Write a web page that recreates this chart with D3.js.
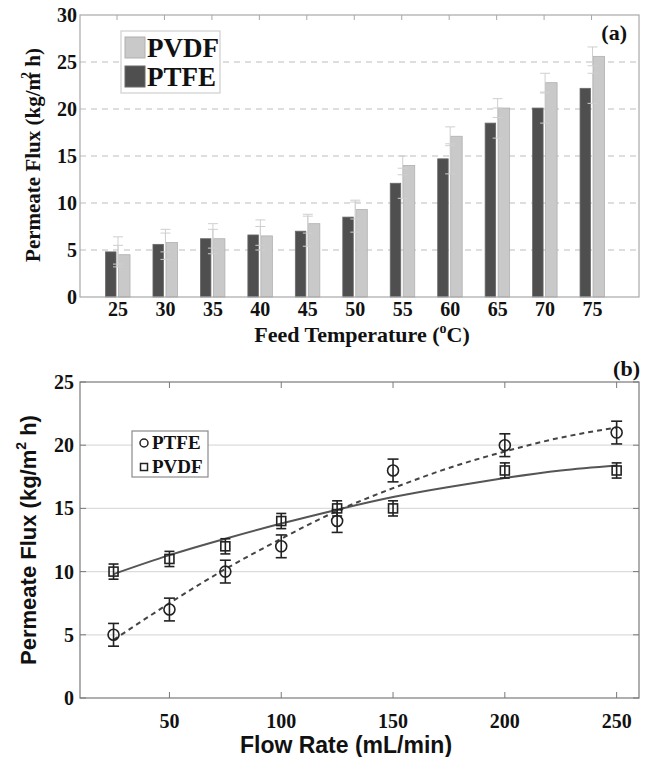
<!DOCTYPE html>
<html>
<head>
<meta charset="utf-8">
<script src="https://cdn.jsdelivr.net/npm/d3@7"></script>
<style>
  body { margin: 0; background: #fff; }
  svg { display: block; }
  .serif { font-family: "Liberation Serif", "Times New Roman", serif; font-weight: bold; }
  .sans { font-family: "Liberation Sans", Arial, sans-serif; font-weight: bold; }
</style>
</head>
<body>
<svg id="chart" width="648" height="757"></svg>
<script>
// ---- (a) feed temperature bars ----
const temps = [25, 30, 35, 40, 45, 50, 55, 60, 65, 70, 75];
const ptfeTemp = [4.8, 5.6, 6.2, 6.6, 7.0, 8.5, 12.1, 14.7, 18.5, 20.1, 22.2];
const pvdfTemp = [4.5, 5.8, 6.2, 6.5, 7.8, 9.3, 14.0, 17.1, 20.1, 22.8, 25.6];
const ptfeTempErr = [1.6, 1.6, 1.6, 1.6, 1.6, 1.6, 1.6, 1.6, 1.6, 1.6, 1.6];
const pvdfTempErr = [1.0, 1.0, 1.0, 1.0, 1.0, 1.0, 1.0, 1.0, 1.0, 1.0, 1.0];
const yTicksA = [0, 5, 10, 15, 20, 25, 30];

// ---- (b) flow rate ----
const flows = [25, 50, 75, 100, 125, 150, 200, 250];
const ptfeFlow = [5, 7, 10, 12, 14, 18, 20, 21];
const pvdfFlow = [10, 11, 12, 14, 15, 15, 18, 18];
const ptfeFlowErr = [0.9, 0.9, 0.9, 0.9, 0.9, 0.9, 0.9, 0.9];
const pvdfFlowErr = [0.6, 0.6, 0.6, 0.6, 0.6, 0.6, 0.6, 0.6];
const fitX = [25, 50, 75, 100, 125, 150, 175, 200, 225, 250];
const ptfeFit = [4.6, 7.5, 10.2, 12.6, 14.8, 16.6, 18.2, 19.5, 20.6, 21.4];
const pvdfFit = [9.8, 11.3, 12.6, 13.8, 14.9, 15.9, 16.7, 17.4, 18.0, 18.4];
const xTicksB = [50, 100, 150, 200, 250];
const yTicksB = [0, 5, 10, 15, 20, 25];

const svg = d3.select("#chart");

// ================= panel (a) =================
const A = {left: 80, right: 639, top: 15, bottom: 297};
const xa = d3.scaleLinear().domain([0.22, 12]).range([A.left, A.right]);
const ya = d3.scaleLinear().domain([0, 30]).range([A.bottom, A.top]);

const ga = svg.append("g");

// dashed grid
ga.append("g")
  .selectAll("line")
  .data(yTicksA.filter(d => d > 0 && d < 30))
  .join("line")
  .attr("x1", A.left).attr("x2", A.right)
  .attr("y1", d => ya(d)).attr("y2", d => ya(d))
  .attr("stroke", "#bdbdbd").attr("stroke-width", 1.2)
  .attr("stroke-dasharray", "6,5");

// bars
const barsA = temps.map((t, i) => ({i: i + 1, ptfe: ptfeTemp[i], pvdf: pvdfTemp[i], ep: ptfeTempErr[i], ev: pvdfTempErr[i]}));

ga.append("g").selectAll("rect")
  .data(barsA).join("rect")
  .attr("x", d => xa(d.i) - 11.5).attr("width", 10.5)
  .attr("y", d => ya(d.ptfe)).attr("height", d => ya(0) - ya(d.ptfe))
  .attr("fill", "#4f4f4f").attr("stroke", "#6a6a6a").attr("stroke-width", 0.8);

ga.append("g").selectAll("rect")
  .data(barsA).join("rect")
  .attr("x", d => xa(d.i) + 1.5).attr("width", 11.5)
  .attr("y", d => ya(d.pvdf)).attr("height", d => ya(0) - ya(d.pvdf))
  .attr("fill", "#c9c9c9").attr("stroke", "#b0b0b0").attr("stroke-width", 0.8);

// faint error bars (both sit at group centre)
const errA = [];
barsA.forEach(d => {
  errA.push({i: d.i, v: d.ptfe, e: d.ep});
  errA.push({i: d.i, v: d.pvdf, e: d.ev});
});
const eg = ga.append("g").attr("stroke", "#cfcfcf").attr("stroke-width", 1);
eg.selectAll(".stem").data(errA).join("line")
  .attr("x1", d => xa(d.i) + 1).attr("x2", d => xa(d.i) + 1)
  .attr("y1", d => ya(d.v - d.e)).attr("y2", d => ya(d.v + d.e));
eg.selectAll(".capT").data(errA).join("line")
  .attr("x1", d => xa(d.i) - 4).attr("x2", d => xa(d.i) + 6)
  .attr("y1", d => ya(d.v + d.e)).attr("y2", d => ya(d.v + d.e));
eg.selectAll(".capB").data(errA).join("line")
  .attr("x1", d => xa(d.i) - 4).attr("x2", d => xa(d.i) + 6)
  .attr("y1", d => ya(d.v - d.e)).attr("y2", d => ya(d.v - d.e));

// frame + top ticks
ga.append("rect")
  .attr("x", A.left).attr("y", A.top)
  .attr("width", A.right - A.left).attr("height", A.bottom - A.top)
  .attr("fill", "none").attr("stroke", "#a8a8a8").attr("stroke-width", 1.2);
ga.append("g").selectAll("line")
  .data(barsA).join("line")
  .attr("x1", d => xa(d.i)).attr("x2", d => xa(d.i))
  .attr("y1", A.top).attr("y2", A.top + 5)
  .attr("stroke", "#a8a8a8");

// tick labels
ga.append("g").selectAll("text")
  .data(yTicksA).join("text")
  .attr("class", "serif")
  .attr("x", A.left - 3).attr("y", d => ya(d)).attr("dy", "0.35em")
  .attr("text-anchor", "end").attr("font-size", 20).attr("fill", "#111")
  .text(d => d);
ga.append("g").selectAll("text")
  .data(barsA).join("text")
  .attr("class", "serif")
  .attr("x", d => xa(d.i) + 1).attr("y", 316)
  .attr("text-anchor", "middle").attr("font-size", 20).attr("fill", "#111")
  .text((d, k) => temps[k]);

// axis titles
const xtA = ga.append("text").attr("class", "serif")
  .attr("x", 362).attr("y", 342).attr("text-anchor", "middle")
  .attr("font-size", 22).attr("fill", "#111");
xtA.append("tspan").text("Feed Temperature (");
xtA.append("tspan").attr("font-size", 14).attr("dy", -9).text("o");
xtA.append("tspan").attr("dy", 9).text("C)");

const ytA = ga.append("text").attr("class", "serif")
  .attr("transform", "translate(40,155) rotate(-90)")
  .attr("text-anchor", "middle").attr("font-size", 21).attr("fill", "#111");
ytA.append("tspan").text("Permeate Flux (kg/m");
ytA.append("tspan").attr("font-size", 14).attr("dy", -9).attr("dx", -6).text("2");
ytA.append("tspan").attr("dy", 9).text(" h)");

// panel letter
ga.append("text").attr("class", "serif")
  .attr("x", 627).attr("y", 40).attr("text-anchor", "end")
  .attr("font-size", 22).attr("fill", "#111").text("(a)");

// legend
const la = ga.append("g");
la.append("rect").attr("x", 121).attr("y", 31).attr("width", 99).attr("height", 62)
  .attr("fill", "#fff").attr("stroke", "#cfcfcf").attr("stroke-width", 1.2);
const legA = [{name: "PVDF", fill: "#c9c9c9", stroke: "#b0b0b0"}, {name: "PTFE", fill: "#4f4f4f", stroke: "#6a6a6a"}];
la.selectAll(".sw").data(legA).join("rect")
  .attr("x", 125).attr("y", (d, k) => 37 + k * 29).attr("width", 20).attr("height", 21)
  .attr("fill", d => d.fill).attr("stroke", d => d.stroke);
la.selectAll(".lt").data(legA).join("text")
  .attr("class", "serif")
  .attr("x", 147).attr("y", (d, k) => 57 + k * 29)
  .attr("font-size", 27).attr("fill", "#111")
  .text(d => d.name);

// ================= panel (b) =================
const B = {left: 80, right: 639, top: 382, bottom: 698};
const xb = d3.scaleLinear().domain([10, 260]).range([B.left, B.right]);
const yb = d3.scaleLinear().domain([0, 25]).range([B.bottom, B.top]);

const gb = svg.append("g");

gb.append("g").selectAll("line")
  .data(yTicksB.filter(d => d > 0 && d < 25)).join("line")
  .attr("x1", B.left).attr("x2", B.right)
  .attr("y1", d => yb(d)).attr("y2", d => yb(d))
  .attr("stroke", "#dcdcdc").attr("stroke-width", 1.2);

gb.append("rect")
  .attr("x", B.left).attr("y", B.top)
  .attr("width", B.right - B.left).attr("height", B.bottom - B.top)
  .attr("fill", "none").attr("stroke", "#7a7a7a").attr("stroke-width", 1.2);

// ticks on all four sides
const tk = gb.append("g").attr("stroke", "#7a7a7a").attr("stroke-width", 1);
tk.selectAll(".tb").data(xTicksB).join("line")
  .attr("x1", d => xb(d)).attr("x2", d => xb(d))
  .attr("y1", B.bottom).attr("y2", B.bottom - 6);
tk.selectAll(".tt").data(xTicksB).join("line")
  .attr("x1", d => xb(d)).attr("x2", d => xb(d))
  .attr("y1", B.top).attr("y2", B.top + 6);
tk.selectAll(".tl").data(yTicksB).join("line")
  .attr("x1", B.left).attr("x2", B.left + 6)
  .attr("y1", d => yb(d)).attr("y2", d => yb(d));
tk.selectAll(".tr").data(yTicksB).join("line")
  .attr("x1", B.right).attr("x2", B.right - 6)
  .attr("y1", d => yb(d)).attr("y2", d => yb(d));

// fit curves
const fitLine = d3.line().x(d => xb(d[0])).y(d => yb(d[1])).curve(d3.curveNatural);
gb.append("path")
  .datum(fitX.map((x, k) => [x, pvdfFit[k]]))
  .attr("d", fitLine).attr("fill", "none")
  .attr("stroke", "#555").attr("stroke-width", 2);
gb.append("path")
  .datum(fitX.map((x, k) => [x, ptfeFit[k]]))
  .attr("d", fitLine).attr("fill", "none")
  .attr("stroke", "#444").attr("stroke-width", 2).attr("stroke-dasharray", "5,4");

// error bars + markers
function errBars(vals, errs, cap) {
  const data = flows.map((f, k) => ({x: f, y: vals[k], e: errs[k]}));
  const g = gb.append("g").attr("stroke", "#222").attr("stroke-width", 1.6).attr("fill", "none");
  g.selectAll(".s").data(data).join("line")
    .attr("x1", d => xb(d.x)).attr("x2", d => xb(d.x))
    .attr("y1", d => yb(d.y - d.e)).attr("y2", d => yb(d.y + d.e));
  g.selectAll(".c1").data(data).join("line")
    .attr("x1", d => xb(d.x) - cap).attr("x2", d => xb(d.x) + cap)
    .attr("y1", d => yb(d.y + d.e)).attr("y2", d => yb(d.y + d.e));
  g.selectAll(".c2").data(data).join("line")
    .attr("x1", d => xb(d.x) - cap).attr("x2", d => xb(d.x) + cap)
    .attr("y1", d => yb(d.y - d.e)).attr("y2", d => yb(d.y - d.e));
  return {g, data};
}
const ep = errBars(ptfeFlow, ptfeFlowErr, 5.5);
ep.g.selectAll("circle").data(ep.data).join("circle")
  .attr("cx", d => xb(d.x)).attr("cy", d => yb(d.y)).attr("r", 5.5);
const ev = errBars(pvdfFlow, pvdfFlowErr, 5);
ev.g.selectAll("rect").data(ev.data).join("rect")
  .attr("x", d => xb(d.x) - 4.5).attr("y", d => yb(d.y) - 4.5)
  .attr("width", 9).attr("height", 9);

// tick labels
gb.append("g").selectAll("text")
  .data(yTicksB).join("text")
  .attr("class", "serif")
  .attr("x", B.left - 6).attr("y", d => yb(d)).attr("dy", "0.35em")
  .attr("text-anchor", "end").attr("font-size", 20).attr("fill", "#111")
  .text(d => d);
gb.append("g").selectAll("text")
  .data(xTicksB).join("text")
  .attr("class", "serif")
  .attr("x", d => xb(d)).attr("y", 728)
  .attr("text-anchor", "middle").attr("font-size", 20).attr("fill", "#111")
  .text(d => d);

// axis titles
gb.append("text").attr("class", "sans")
  .attr("x", 346).attr("y", 753).attr("text-anchor", "middle")
  .attr("font-size", 23).attr("fill", "#111")
  .text("Flow Rate (mL/min)");

const ytB = gb.append("text").attr("class", "sans")
  .attr("transform", "translate(36,540) rotate(-90)")
  .attr("text-anchor", "middle").attr("font-size", 22).attr("fill", "#111");
ytB.append("tspan").text("Permeate Flux (kg/m");
ytB.append("tspan").attr("font-size", 14).attr("dy", -10).text("2");
ytB.append("tspan").attr("dy", 10).text(" h)");

gb.append("text").attr("class", "serif")
  .attr("x", 640).attr("y", 376).attr("text-anchor", "end")
  .attr("font-size", 22).attr("fill", "#111").text("(b)");

// legend
const lb = gb.append("g");
lb.append("rect").attr("x", 132).attr("y", 431).attr("width", 76).attr("height", 46)
  .attr("fill", "#fff").attr("stroke", "#8a8a8a").attr("stroke-width", 1.2);
lb.append("circle").attr("cx", 144).attr("cy", 443).attr("r", 4)
  .attr("fill", "none").attr("stroke", "#222").attr("stroke-width", 1.5);
lb.append("rect").attr("x", 140.5).attr("y", 463.5).attr("width", 7).attr("height", 7)
  .attr("fill", "none").attr("stroke", "#222").attr("stroke-width", 1.5);
lb.selectAll("text").data(["PTFE", "PVDF"]).join("text")
  .attr("class", "serif")
  .attr("x", 152).attr("y", (d, k) => 449 + k * 24)
  .attr("font-size", 19).attr("fill", "#111")
  .text(d => d);
</script>
</body>
</html>
